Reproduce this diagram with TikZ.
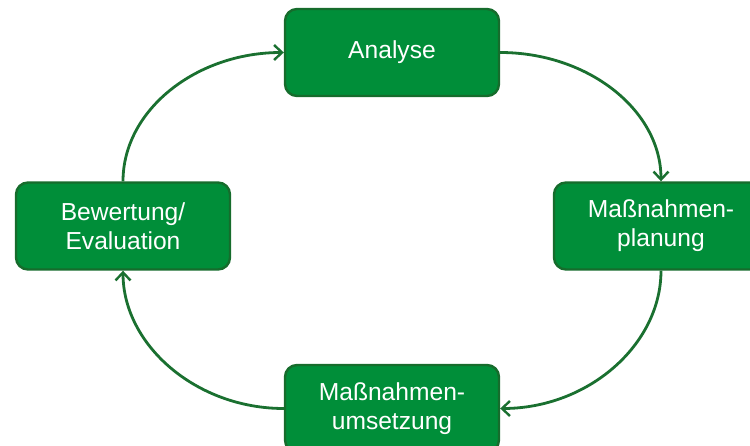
\documentclass[tikz,border=0pt]{standalone}
\usepackage{fontspec}
\setmainfont{Liberation Sans}
\usetikzlibrary{arrows.meta}
\definecolor{boxfill}{RGB}{0,142,57}
\definecolor{boxline}{RGB}{22,108,44}
\definecolor{arrowc}{RGB}{26,112,48}
\begin{document}
\begin{tikzpicture}[x=1pt,y=1pt,
  stagebox/.style={draw=boxline, line width=2.4pt, fill=boxfill, rounded corners=12pt,
    minimum width=214pt, minimum height=87pt, inner sep=0pt, text=white,
    font=\fontsize{24.6}{29}\selectfont, align=center},
  cyc/.style={draw=arrowc, line width=2.8pt, -{Straight Barb[length=8pt,width=15pt,line width=2.4pt]}}]
\useasboundingbox (0,0) rectangle (750,445);
\clip (0,0) rectangle (750,445);
\node[stagebox] (A) at (392,392.5) {Analyse};
\node[stagebox] (P) at (661,219) {Maßnahmen-\\planung};
\node[stagebox] (B) at (123,219) {Bewertung/\\Evaluation};
\node[stagebox] (U) at (392,36.5) {Maßnahmen-\\umsetzung};
\draw[cyc] (A.east) .. controls +(88,0) and +(0,71) .. (P.north);
\draw[cyc] (P.south) .. controls +(0,-74) and +(88,0) .. (U.east);
\draw[cyc] (U.west) .. controls +(-88,0) and +(0,-74) .. (B.south);
\draw[cyc] (B.north) .. controls +(0,71) and +(-88,0) .. (A.west);
\end{tikzpicture}
\end{document}
